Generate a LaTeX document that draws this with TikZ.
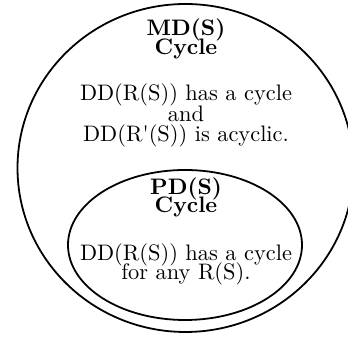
\documentclass[tikz,border=0pt]{standalone}
\usepackage{textcomp}
\begin{document}
\begin{tikzpicture}[x=0.4464pt,y=-0.4464pt,
  ring/.style={draw,line width=0.8pt},
  txt/.style={anchor=base,inner sep=0pt},
  hd/.style={txt,font=\bfseries}]
\useasboundingbox (0,0) rectangle (348,339);
\clip (0,0) rectangle (348,339);
\draw[ring] (185.5,168) ellipse [x radius=168, y radius=164];
\draw[ring] (185,245) ellipse [x radius=117, y radius=75];
\node[hd] (mdh) at (186,36) {MD(S)};
\node[hd] (mdc) at (186,54.5) {Cycle};
\node[txt] (m1) at (186,101) {DD(R(S)) has a cycle};
\node[txt] (m2) at (186,122) {and};
\node[txt] (m3) at (186,142) {DD(R\textquotesingle(S)) is acyclic.};
\node[hd] (pdh) at (186,195) {PD(S)};
\node[hd] (pdc) at (186,213) {Cycle};
\node[txt] (p1) at (186,260.5) {DD(R(S)) has a cycle};
\node[txt] (p2) at (186,280) {for any R(S).};
\end{tikzpicture}
\end{document}
